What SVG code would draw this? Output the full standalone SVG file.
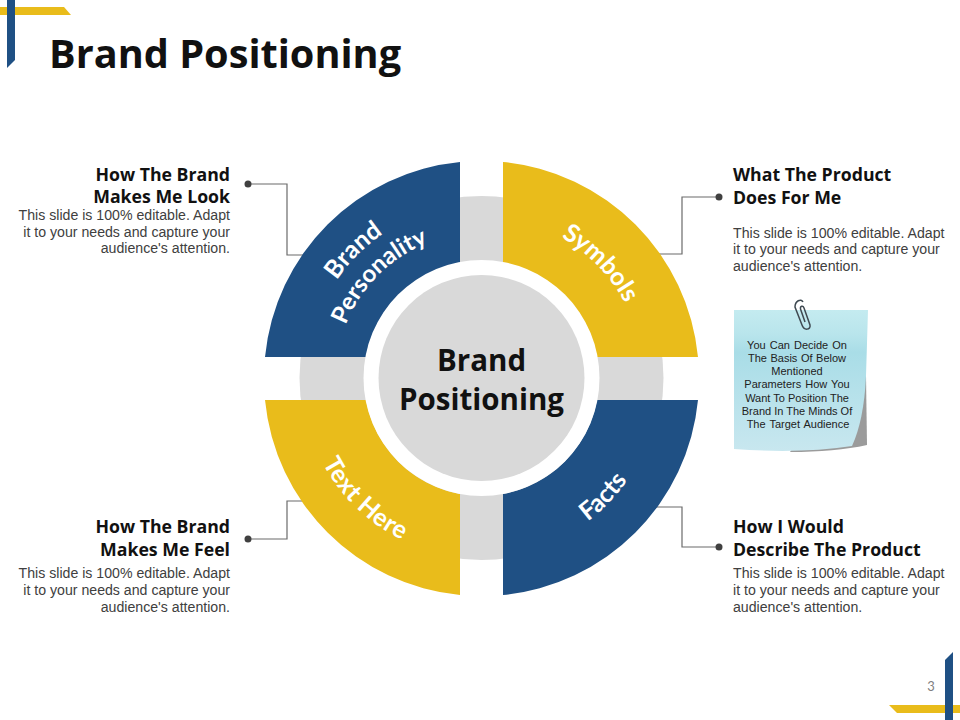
<svg xmlns="http://www.w3.org/2000/svg" width="960" height="720" viewBox="0 0 960 720">
<style>
.blue{fill:#1f5084}
.yel{fill:#e9bc1b}
.gray{fill:#d9d9d9}
.h{font-family:"Open Sans",sans-serif;font-weight:700;font-size:17.700px;fill:#111}
.b{font-family:"Liberation Sans",Arial,sans-serif;font-size:14.150px;fill:#404040}
.arc{font-family:"Lato",sans-serif;font-weight:700;font-size:25px;fill:#fff;text-anchor:middle}
.n{font-family:"Liberation Sans",Arial,sans-serif;font-size:11px;fill:#222;text-anchor:middle}
.c{fill:none;stroke:#6b6b6b;stroke-width:1.2}
.d{fill:#404040}
</style>
<defs>
<linearGradient id="note" x1="0" y1="0" x2="0" y2="1">
<stop offset="0" stop-color="#c4ebf0"/><stop offset="0.17" stop-color="#b9e5ec"/><stop offset="0.3" stop-color="#a9dde7"/><stop offset="1" stop-color="#c8e7ef"/>
</linearGradient>
<path id="pSym" d="M481.500 216.500A162 162 0 0 1 643.500 378.500"/>
<path id="pBrand" d="M306.500 378.500A175 175 0 0 1 481.500 203.500"/>
<path id="pPers" d="M335.500 378.500A146 146 0 0 1 481.500 232.500"/>
<path id="pText" d="M301.500 378.500A180 180 0 0 0 481.500 558.500"/>
<path id="pFacts" d="M481.500 556.500A178 178 0 0 0 659.500 378.500"/>
</defs>
<g id="frame">
<path class="yel" d="M0 7H64L71 15H0Z"/>
<path class="blue" d="M7 0H15V60L7 68Z"/>
<path class="yel" d="M889 705H960V713H897Z"/>
<path class="blue" d="M945 660L953 652V720H945Z"/>
<text x="49" y="67.500" font-family="Open Sans,sans-serif" font-weight="700" font-size="39.700" fill="#111">Brand Positioning</text>
<text x="931" y="691" font-family="Lato,sans-serif" font-size="13" fill="#7f7f7f" text-anchor="middle">3</text>
</g>
<g id="ring"><circle class="gray" cx="481.500" cy="378" r="182"/></g>
<g id="connectors">
<path class="c" d="M248 184H287V255H315"/>
<path class="c" d="M719 197H682V254H655"/>
<path class="c" d="M719 547H682V507H650"/>
<path class="c" d="M248 539H287V501H320"/>
<circle class="d" cx="248" cy="184" r="3.500"/>
<circle class="d" cx="719" cy="197" r="3.500"/>
<circle class="d" cx="719" cy="547" r="3.500"/>
<circle class="d" cx="248" cy="539" r="3.500"/>
</g>
<g id="brand-personality">
<path class="blue" d="M460 162A217 217 0 0 0 265 357H366A117 117 0 0 1 460 263Z"/>
<text class="arc"><textPath href="#pBrand" startOffset="50%">Brand</textPath></text>
<text class="arc" style="font-size:24px"><textPath href="#pPers" startOffset="50%">Personality</textPath></text>
</g>
<g id="symbols">
<path class="yel" d="M503 162A217 217 0 0 1 698 357H597A117 117 0 0 0 503 263Z"/>
<text class="arc"><textPath href="#pSym" startOffset="51%">Symbols</textPath></text>
</g>
<g id="text-here">
<path class="yel" d="M460 595A217 217 0 0 1 265 400H366A117 117 0 0 0 460 494Z"/>
<text class="arc"><textPath href="#pText" startOffset="51%" letter-spacing="0.500">Text Here</textPath></text>
</g>
<g id="facts">
<path class="blue" d="M503 595A217 217 0 0 0 698 400H597A117 117 0 0 1 503 494Z"/>
<text class="arc"><textPath href="#pFacts" startOffset="51%">Facts</textPath></text>
</g>
<g id="center">
<circle cx="481.500" cy="378" r="118" fill="#fff"/>
<circle class="gray" cx="481.500" cy="378" r="103"/>
<text x="481.500" y="371" font-family="Open Sans,sans-serif" font-weight="700" font-size="29.500" fill="#111" text-anchor="middle">Brand</text>
<text x="481.500" y="410" font-family="Open Sans,sans-serif" font-weight="700" font-size="29.500" fill="#111" text-anchor="middle">Positioning</text>
</g>
<g id="label-tl" text-anchor="end">
<text class="h" x="230" y="180.500">How The Brand</text>
<text class="h" x="230" y="203">Makes Me Look</text>
<text class="b" x="230" y="220">This slide is 100% editable. Adapt</text>
<text class="b" x="230" y="237">it to your needs and capture your</text>
<text class="b" x="230" y="253">audience's attention.</text>
</g>
<g id="label-tr">
<text class="h" x="733" y="180.500">What The Product</text>
<text class="h" x="733" y="203.500">Does For Me</text>
<text class="b" x="733" y="237.500">This slide is 100% editable. Adapt</text>
<text class="b" x="733" y="254">it to your needs and capture your</text>
<text class="b" x="733" y="270.500">audience's attention.</text>
</g>
<g id="label-bl" text-anchor="end">
<text class="h" x="230" y="532.500">How The Brand</text>
<text class="h" x="230" y="555.500">Makes Me Feel</text>
<text class="b" x="230" y="578">This slide is 100% editable. Adapt</text>
<text class="b" x="230" y="595">it to your needs and capture your</text>
<text class="b" x="230" y="612">audience's attention.</text>
</g>
<g id="label-br">
<text class="h" x="733" y="532.500">How I Would</text>
<text class="h" x="733" y="555.500">Describe The Product</text>
<text class="b" x="733" y="578">This slide is 100% editable. Adapt</text>
<text class="b" x="733" y="595">it to your needs and capture your</text>
<text class="b" x="733" y="612">audience's attention.</text>
</g>
<g id="note-card">
<path d="M790 452Q835 452 867 445L866 375L840 380Z" fill="#9b9b9b"/>
<path d="M734 310H868L866 376Q864 420 852 446Q800 454 734 449Z" fill="url(#note)"/>
<path d="M803 302C801 298 795 301 795 307L802 325C804 331 811 330 810 325L804 308C803 305 800 306 800.500 309L805 322" fill="none" stroke="#3f4a52" stroke-width="1.500"/>
<text class="n" x="797" y="349" word-spacing="1">You Can Decide On</text>
<text class="n" x="797" y="362" word-spacing="0.500">The Basis Of Below</text>
<text class="n" x="797" y="375">Mentioned</text>
<text class="n" x="797" y="388" word-spacing="1">Parameters How You</text>
<text class="n" x="797" y="402">Want To Position The</text>
<text class="n" x="797" y="415">Brand In The Minds Of</text>
<text class="n" x="798" y="428" word-spacing="1">The Target Audience</text>
</g>
</svg>
